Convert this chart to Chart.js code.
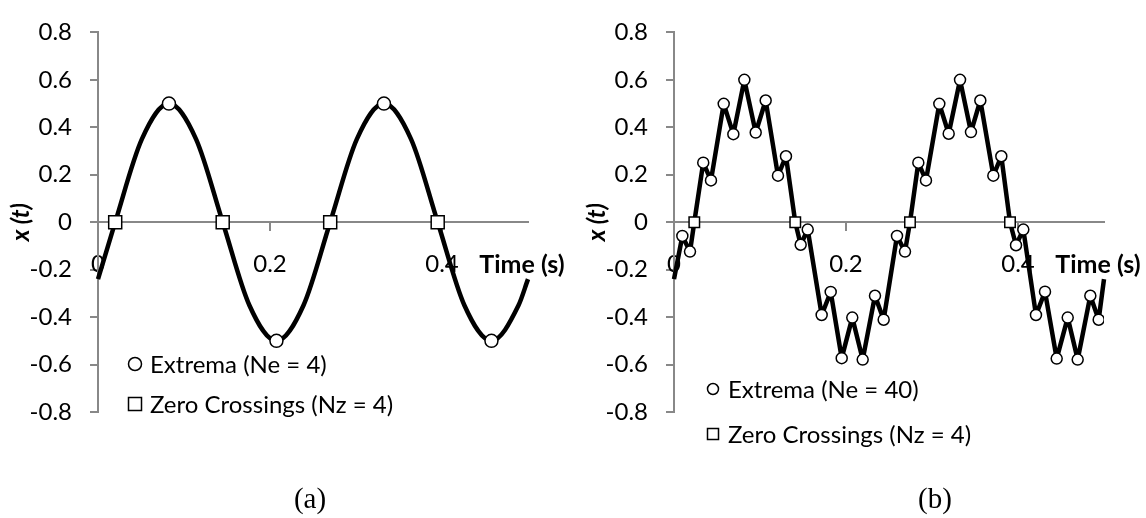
<!DOCTYPE html>
<html>
<head>
<meta charset="utf-8">
<title>Extrema and zero crossings</title>
<script src="https://cdn.jsdelivr.net/npm/chart.js@4.4.1/dist/chart.umd.min.js"></script>
<style>
  html, body { margin: 0; padding: 0; background: #fff; }
  .panel { position: absolute; top: 0; width: 573px; height: 518px; }
  #panel-a { left: 0; }
  #panel-b { left: 573px; }
</style>
</head>
<body>
<div class="panel" id="panel-a"><canvas id="chartA" width="573" height="518"></canvas></div>
<div class="panel" id="panel-b"><canvas id="chartB" width="573" height="518"></canvas></div>
<script>
// --- DATA ---

// (a) single sine component, sampled along the curve
const timeA = [0, 0.02, 0.051, 0.0825, 0.114, 0.145, 0.176, 0.2075, 0.239, 0.27, 0.301, 0.3325, 0.364, 0.395, 0.426, 0.4575, 0.489, 0.5];
const signalA = [-0.24, 0, 0.35, 0.5, 0.35, 0, -0.35, -0.5, -0.35, 0, 0.35, 0.5, 0.35, 0, -0.35, -0.5, -0.35, -0.24];
const extremaTimeA = [0.0825, 0.2075, 0.3325, 0.4575];
const extremaA = [0.5, -0.5, 0.5, -0.5];
const zeroTimeA = [0.02, 0.145, 0.27, 0.395];

// (b) same signal with a high frequency component added
const edgeTimeB = [0, 0.5];
const edgeSignalB = [-0.24, -0.24];
const extremaTimeB = [
  0.0097, 0.0186, 0.034, 0.043, 0.0578, 0.069, 0.0818, 0.095, 0.1066, 0.1209,
  0.1302, 0.1473, 0.1555, 0.1717, 0.1822, 0.195, 0.2073, 0.2194, 0.2337, 0.2438,
  0.2593, 0.2686, 0.2841, 0.293, 0.3085, 0.3194, 0.3326, 0.3453, 0.3562, 0.3713,
  0.3806, 0.3977, 0.4062, 0.4209, 0.4314, 0.445, 0.4578, 0.4694, 0.4841, 0.4938
];
const extremaB = [
  -0.058, -0.124, 0.251, 0.176, 0.499, 0.371, 0.6, 0.378, 0.513, 0.196,
  0.278, -0.095, -0.031, -0.391, -0.294, -0.573, -0.402, -0.579, -0.31, -0.411,
  -0.058, -0.124, 0.251, 0.176, 0.499, 0.373, 0.6, 0.38, 0.513, 0.196,
  0.278, -0.097, -0.031, -0.391, -0.293, -0.575, -0.402, -0.579, -0.31, -0.411
];
const zeroTimeB = [0.0236, 0.141, 0.2744, 0.3907];

// axis ticks shared by both panels
const xTickValues = [0, 0.2, 0.4];
const yTickValues = [-0.8, -0.6, -0.4, -0.2, 0, 0.2, 0.4, 0.6, 0.8];

// --- HELPERS ---
const axisGray = '#888888';
const labelFont = { family: 'Lato', size: 24 };

function toPoints(times, values) {
    return times.map((t, i) => ({ x: t, y: values[i] }));
}

// draws the axis name, the legend and the panel caption
const panelText = {
    id: 'panelText',
    afterDraw(chart, args, opts) {
        const ctx = chart.ctx;
        const area = chart.chartArea;
        const zeroY = chart.scales.y.getPixelForValue(0);

        ctx.save();
        ctx.fillStyle = '#000';
        ctx.textAlign = 'center';
        ctx.textBaseline = 'middle';
        ctx.font = 'bold 25px Lato';
        ctx.fillText('Time (s)', area.right - 6, zeroY + 43);

        // legend entries
        ctx.textAlign = 'left';
        ctx.font = '24px Lato';
        ctx.lineWidth = 1.5;
        ctx.strokeStyle = '#000';
        opts.legend.forEach(item => {
            ctx.fillStyle = '#fff';
            ctx.beginPath();
            if (item.style === 'circle') {
                ctx.arc(opts.legendX, item.y, opts.markerSize / 2, 0, Math.PI * 2);
            } else {
                ctx.rect(opts.legendX - opts.markerSize / 2, item.y - opts.markerSize / 2, opts.markerSize, opts.markerSize);
            }
            ctx.fill();
            ctx.stroke();
            ctx.fillStyle = '#000';
            ctx.fillText(item.text, opts.legendX + opts.textGap, item.y + 1);
        });

        // caption under the panel
        ctx.textAlign = 'center';
        ctx.textBaseline = 'alphabetic';
        ctx.font = '29px "Liberation Serif"';
        ctx.fillText(opts.caption, opts.captionX, 508);
        ctx.restore();
    }
};

function buildChart(canvasId, cfg) {
    return new Chart(document.getElementById(canvasId), {
        type: 'scatter',
        data: {
            datasets: [
                {
                    label: 'Extrema',
                    data: cfg.extrema,
                    pointStyle: 'circle',
                    pointRadius: cfg.circleRadius,
                    pointBackgroundColor: '#fff',
                    pointBorderColor: '#000',
                    pointBorderWidth: 1.5,
                    showLine: false
                },
                {
                    label: 'Zero Crossings',
                    data: cfg.zeros,
                    pointStyle: 'rect',
                    pointRadius: cfg.rectRadius,
                    pointBackgroundColor: '#fff',
                    pointBorderColor: '#000',
                    pointBorderWidth: 1.5,
                    showLine: false
                },
                {
                    label: 'x(t)',
                    data: cfg.line,
                    showLine: true,
                    borderColor: '#000',
                    borderWidth: 4.5,
                    pointRadius: 0,
                    cubicInterpolationMode: cfg.smooth ? 'monotone' : 'default',
                    tension: 0,
                    borderJoinStyle: 'round',
                    clip: false
                }
            ]
        },
        options: {
            responsive: false,
            animation: false,
            events: [],
            layout: { padding: { left: 0, top: 15, right: cfg.rightPad, bottom: 106 } },
            plugins: {
                legend: { display: false },
                tooltip: { enabled: false },
                panelText: {
                    caption: cfg.caption,
                    captionX: cfg.captionX,
                    legendX: cfg.legendX,
                    textGap: 15,
                    markerSize: cfg.legendMarker,
                    legend: cfg.legend
                }
            },
            scales: {
                x: {
                    type: 'linear',
                    min: 0,
                    max: 0.5,
                    position: { y: 0 },
                    afterBuildTicks: s => { s.ticks = xTickValues.map(v => ({ value: v })); },
                    ticks: { font: labelFont, color: '#000', padding: 20, maxRotation: 0, autoSkip: false, callback: v => String(v) },
                    grid: { drawOnChartArea: false, tickLength: 8, color: axisGray, lineWidth: 2 },
                    border: { color: axisGray, width: 2 }
                },
                y: {
                    type: 'linear',
                    min: -0.8,
                    max: 0.8,
                    afterBuildTicks: s => { s.ticks = yTickValues.map(v => ({ value: v })); },
                    afterFit: s => { s.width = cfg.axisWidth; },
                    ticks: { font: labelFont, color: '#000', padding: 18, autoSkip: false, callback: v => String(v) },
                    grid: { drawOnChartArea: false, tickLength: 8, color: axisGray, lineWidth: 2 },
                    border: { color: axisGray, width: 2 },
                    title: {
                        display: true,
                        text: 'x (t)',
                        color: '#000',
                        font: { family: 'Lato', size: 24, weight: 'bold', style: 'italic' },
                        padding: { top: cfg.titlePad, bottom: 0 }
                    }
                }
            }
        },
        plugins: [panelText]
    });
}

// --- PANEL (a) ---
buildChart('chartA', {
    line: toPoints(timeA, signalA),
    extrema: toPoints(extremaTimeA, extremaA),
    zeros: zeroTimeA.map(t => ({ x: t, y: 0 })),
    smooth: true,
    circleRadius: 6.5,
    rectRadius: 9.2,
    axisWidth: 98,
    rightPad: 45,
    titlePad: 7,
    caption: '(a)',
    captionX: 310,
    legendX: 135,
    legendMarker: 13,
    legend: [
        { style: 'circle', text: `Extrema (Ne = ${extremaTimeA.length})`, y: 364 },
        { style: 'rect', text: `Zero Crossings (Nz = ${zeroTimeA.length})`, y: 404 }
    ]
});

// --- PANEL (b) ---
const lineB = [{ x: edgeTimeB[0], y: edgeSignalB[0] }]
    .concat(toPoints(extremaTimeB, extremaB), zeroTimeB.map(t => ({ x: t, y: 0 })))
    .concat([{ x: edgeTimeB[1], y: edgeSignalB[1] }])
    .sort((p, q) => p.x - q.x);

buildChart('chartB', {
    line: lineB,
    extrema: toPoints(extremaTimeB, extremaB),
    zeros: zeroTimeB.map(t => ({ x: t, y: 0 })),
    smooth: false,
    circleRadius: 5.5,
    rectRadius: 7.4,
    axisWidth: 101,
    rightPad: 42,
    titlePad: 10,
    caption: '(b)',
    captionX: 362,
    legendX: 140,
    legendMarker: 11,
    legend: [
        { style: 'circle', text: `Extrema (Ne = ${extremaTimeB.length})`, y: 389 },
        { style: 'rect', text: `Zero Crossings (Nz = ${zeroTimeB.length})`, y: 434 }
    ]
});
</script>
</body>
</html>
